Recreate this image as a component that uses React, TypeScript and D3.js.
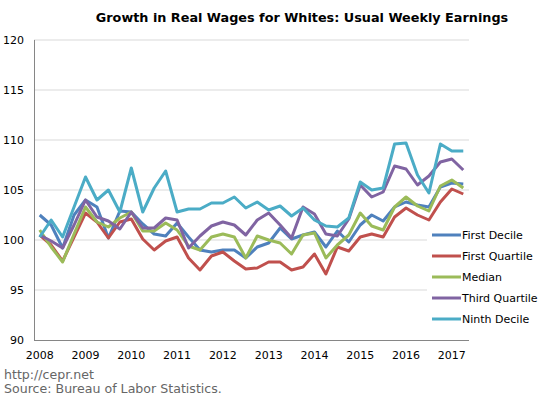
import React from "react";
import * as d3 from "d3";

const years = ["2008","2009","2010","2011","2012","2013","2014","2015","2016","2017"];
const quarters = d3.range(38).map((i) => `${2008 + Math.floor(i / 4)}Q${(i % 4) + 1}`);

const firstDecile = [102.5, 101.5, 99.2, 102.5, 104.0, 103.3, 100.2, 102.9, 102.8, 101.6, 100.6, 100.4, 101.7, 100.3, 99.0, 98.8, 99.0, 99.0, 98.2, 99.3, 99.7, 101.2, 100.1, 100.5, 100.8, 99.3, 100.9, 99.8, 101.5, 102.5, 101.9, 103.3, 103.8, 103.5, 103.3, 105.3, 105.7, 105.6];
const firstQuartile = [100.5, 99.5, 97.9, 100.3, 102.7, 101.8, 100.2, 101.8, 102.1, 100.1, 99.0, 99.9, 100.3, 98.2, 97.0, 98.4, 98.8, 97.9, 97.1, 97.2, 97.8, 97.8, 97.0, 97.3, 98.6, 96.6, 99.3, 98.9, 100.3, 100.6, 100.3, 102.3, 103.2, 102.5, 102.0, 103.8, 105.1, 104.6];
const median = [101.0, 99.3, 97.8, 100.6, 103.3, 101.8, 101.3, 102.2, 102.8, 100.9, 100.9, 101.7, 101.0, 99.4, 99.0, 100.3, 100.6, 100.3, 98.2, 100.4, 100.0, 99.7, 98.6, 100.5, 100.7, 98.2, 99.5, 100.5, 102.7, 101.4, 101.0, 103.3, 104.3, 103.4, 102.9, 105.4, 106.0, 105.2];
const thirdQuartile = [100.5, 99.9, 99.2, 101.5, 104.0, 102.3, 101.9, 101.1, 102.8, 101.2, 101.2, 102.2, 102.0, 99.2, 100.4, 101.4, 101.8, 101.5, 100.5, 102.0, 102.7, 101.5, 100.2, 103.3, 102.6, 100.6, 100.4, 102.1, 105.5, 104.3, 104.8, 107.4, 107.1, 105.5, 106.4, 107.8, 108.1, 107.0];
const ninthDecile = [100.3, 102.0, 100.3, 103.3, 106.3, 104.0, 105.0, 102.8, 107.2, 102.8, 105.2, 106.9, 102.8, 103.1, 103.1, 103.7, 103.7, 104.3, 103.2, 103.8, 103.0, 103.4, 102.4, 103.2, 102.0, 101.4, 101.3, 102.2, 105.8, 105.0, 105.2, 109.6, 109.7, 106.5, 104.7, 109.6, 108.9, 108.9];

const seriesNames = ["First Decile", "First Quartile", "Median", "Third Quartile", "Ninth Decile"];
const seriesValues = [firstDecile, firstQuartile, median, thirdQuartile, ninthDecile];
const seriesColors = ["#4F81BD", "#C0504D", "#9BBB59", "#8064A2", "#4BACC6"];
const yTicks = [90, 95, 100, 105, 110, 115, 120];

const FONT = "'DejaVu Sans', Verdana, sans-serif";

export default function App() {
  const left = 34, right = 469, top = 40, bottom = 340;
  const x = d3.scaleBand<string>().domain(quarters).range([left, right]).padding(0);
  const cx = (i: number) => (x(quarters[i]) as number) + x.bandwidth() / 2;
  const y = d3.scaleLinear().domain([90, 120]).range([bottom, top]);
  const line = d3.line<number>().x((_, i) => cx(i)).y((d) => y(d));

  return (
    <svg width={550} height={406} style={{ position: "absolute", left: 0, top: 0, background: "#fff" }} fontFamily={FONT}>
      <rect x={0} y={0} width={550} height={406} fill="#fff" />
      <text x={302} y={22} textAnchor="middle" fontSize={12.8} fontWeight="bold" fill="#000">
        Growth in Real Wages for Whites: Usual Weekly Earnings
      </text>
      {yTicks.map((t) => (
        <g key={t}>
          {t > 90 && <line x1={left} x2={right} y1={y(t)} y2={y(t)} stroke="#d9d9d9" strokeWidth={1} />}
          <text x={24} y={y(t)} dy="0.35em" textAnchor="end" fontSize={11} fill="#000">{t}</text>
        </g>
      ))}
      <line x1={left + 0.5} x2={left + 0.5} y1={top} y2={bottom} stroke="#868686" strokeWidth={1} />
      <line x1={left} x2={right} y1={bottom + 0.5} y2={bottom + 0.5} stroke="#868686" strokeWidth={1} />
      {years.map((yr, k) => (
        <text key={yr} x={cx(k * 4)} y={355} dy="0.35em" textAnchor="middle" fontSize={11} fill="#000">{yr}</text>
      ))}
      {seriesValues.map((vals, s) => (
        <path key={seriesNames[s]} d={line(vals) as string} fill="none" stroke={seriesColors[s]} strokeWidth={3} strokeLinejoin="round" />
      ))}
      <rect x={427} y={224} width={123} height={106} fill="#fff" />
      {seriesNames.map((n, s) => (
        <g key={n}>
          <line x1={432} x2={461} y1={235 + s * 21} y2={235 + s * 21} stroke={seriesColors[s]} strokeWidth={3} />
          <text x={462} y={235 + s * 21} dy="0.35em" fontSize={11} fill="#000">{n}</text>
        </g>
      ))}
      <text x={4} y={375} dy="0.35em" fontSize={12.6} fill="#666">http://cepr.net</text>
      <text x={4} y={389} dy="0.35em" fontSize={12.6} fill="#666">Source: Bureau of Labor Statistics.</text>
    </svg>
  );
}
